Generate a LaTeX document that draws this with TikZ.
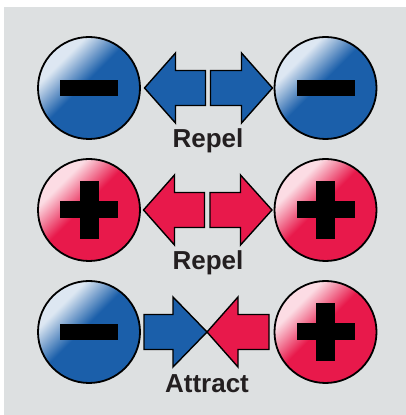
\documentclass[tikz,border=0pt]{standalone}
\usepackage{fontspec}
\setmainfont{Liberation Sans}
\definecolor{bg}{RGB}{221,224,225}
\definecolor{cblue}{RGB}{27,95,170}
\definecolor{cred}{RGB}{232,25,75}
\definecolor{ink}{RGB}{35,31,32}
\pgfdeclareverticalshading{hlblue}{100bp}{color(0bp)=(cblue); color(53bp)=(cblue); color(69bp)=(white!85!cblue); color(100bp)=(white!85!cblue)}
\pgfdeclareverticalshading{hlred}{100bp}{color(0bp)=(cred); color(53bp)=(cred); color(69bp)=(white!85!cred); color(100bp)=(white!85!cred)}
\tikzset{
  outline/.style={draw=black, line width=1.4pt, line join=miter},
  lbl/.style={font=\bfseries\fontsize{26}{30}\selectfont, text=ink, anchor=base, inner sep=0pt},
}
% #1 name, #2 x, #3 y, #4 shading
\newcommand\chargeball[4]{%
  \node[circle, minimum size=102pt, inner sep=0pt] (#1) at (#2,#3) {};
  \shade[shading=#4, shading angle=45] (#1.center) circle (51pt);
  \draw[line width=1.8pt] (#1.center) circle (51pt);
}
\newcommand\minussign[1]{%
  \begin{scope}[shift={(#1.center)}]
    \fill[black] (-29,-8) rectangle (29,8);
  \end{scope}}
\newcommand\plussign[1]{%
  \begin{scope}[shift={(#1.center)}]
    \fill[black] (-29,-8.5) rectangle (29,8.5);
    \fill[black] (-9.5,-29) rectangle (9.5,29);
  \end{scope}}
% #1 colour, #2 tip x, #3 head base x, #4 tail x, #5 y
\newcommand\blockarrow[5]{%
  \filldraw[outline, fill=#1] (#2,#5) -- (#3,#5+35) -- (#3,#5+17.5) -- (#4,#5+17.5)
    -- (#4,#5-17.5) -- (#3,#5-17.5) -- (#3,#5-35) -- cycle;}
\begin{document}
\begin{tikzpicture}[x=1pt, y=1pt]
  \useasboundingbox (0,0) rectangle (406,415);
  \fill[bg] (4,0) rectangle (406,408);

  % Row 1: minus - minus, repel
  \chargeball{a1}{89}{327}{hlblue}
  \chargeball{b1}{325.5}{327}{hlblue}
  \minussign{a1}
  \minussign{b1}
  \blockarrow{cblue}{144.5}{175.5}{205.5}{327}
  \blockarrow{cblue}{272.5}{241.5}{210.5}{327}
  \node[lbl] (t1) at (208,267) {Repel};

  % Row 2: plus - plus, repel
  \chargeball{a2}{89}{205}{hlred}
  \chargeball{b2}{325.5}{205}{hlred}
  \plussign{a2}
  \plussign{b2}
  \blockarrow{cred}{143.5}{174.5}{204.5}{205}
  \blockarrow{cred}{272}{240.5}{210}{205}
  \node[lbl] (t2) at (208,145) {Repel};

  % Row 3: minus - plus, attract
  \chargeball{a3}{89}{83}{hlblue}
  \chargeball{b3}{325.5}{83}{hlred}
  \minussign{a3}
  \plussign{b3}
  \blockarrow{cblue}{207}{173}{144}{83}
  \blockarrow{cred}{207}{238}{269}{83}
  \node[lbl] (t3) at (207,23) {Attract};
\end{tikzpicture}
\end{document}
